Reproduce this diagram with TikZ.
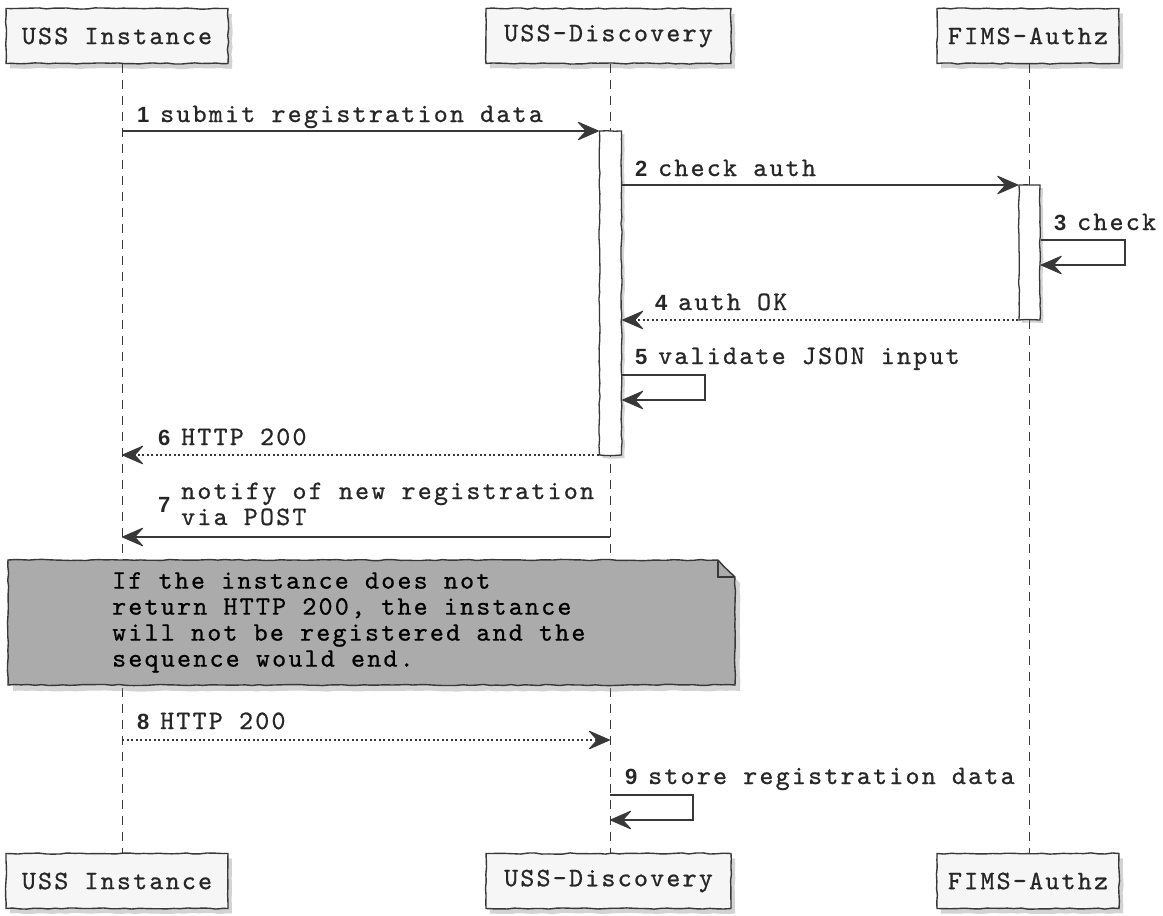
\documentclass[tikz,border=0pt]{standalone}
\usepackage{fontspec}
\setmonofont[LetterSpace=8.5,FakeBold=0.8]{lmmono10-regular.otf}
\newfontfamily\numfont{Liberation Sans}
\usetikzlibrary{arrows.meta,shadows,calc,decorations.pathmorphing}
\definecolor{linec}{HTML}{383838}
\definecolor{boxfill}{HTML}{F6F6F6}
\definecolor{notefill}{HTML}{ABABAB}
\pgfmathsetseed{7}
\tikzset{
  wob/.style={decorate, decoration={random steps, segment length=7pt, amplitude=0.6pt}},
  txt/.style={font=\ttfamily\fontsize{26.6}{26}\selectfont, text=black!85},
  partbox/.style={draw=linec, fill=boxfill, line width=1.4pt, minimum height=55pt, inner sep=0pt, txt, wob,
     drop shadow={opacity=0.35, shadow xshift=4pt, shadow yshift=-5pt}},
  lifeline/.style={draw=linec, line width=0.9pt, dash pattern=on 9pt off 7pt},
  actbar/.style={draw=linec, fill=white, line width=1.3pt, wob,
     drop shadow={opacity=0.35, shadow xshift=3pt, shadow yshift=-3pt}},
  tipv/.tip={Stealth[length=23pt,width=20pt,inset=9pt,line width=0.9pt,round]},
  msg/.style={draw=linec, line width=1.4pt, -tipv},
  ret/.style={msg, dash pattern=on 2pt off 2.5pt},
  lbl/.style={txt, anchor=base west, inner sep=0pt},
  num/.style={font=\numfont\bfseries\fontsize{22}{22}\selectfont, anchor=base west, inner sep=0pt, text=black!85},
}
\begin{document}
\begin{tikzpicture}[x=1pt,y=-1pt]
\useasboundingbox (0,0) rectangle (1163,916);
% participants
\node[partbox, minimum width=222pt] (uT) at (117,36) {USS Instance};
\node[partbox, minimum width=245pt] (dT) at (608.5,36) {USS-Discovery};
\node[partbox, minimum width=182pt] (fT) at (1028,36) {FIMS-Authz};
\node[partbox, minimum width=222pt] (uB) at (117,881) {USS Instance};
\node[partbox, minimum width=245pt] (dB) at (608.5,881) {USS-Discovery};
\node[partbox, minimum width=182pt] (fB) at (1028,881) {FIMS-Authz};
% lifelines
\coordinate (u0) at (122,64); \coordinate (u1) at (122,854);
\coordinate (d0) at (610,64); \coordinate (d1) at (610,854);
\coordinate (f0) at (1029,64); \coordinate (f1) at (1029,854);
\draw[lifeline] (u0) -- (u1);
\draw[lifeline] (d0) -- (d1);
\draw[lifeline] (f0) -- (f1);
% activation bars
\node[actbar, minimum width=22pt, minimum height=324pt, inner sep=0pt] (dA) at (610.5,293) {};
\node[actbar, minimum width=21pt, minimum height=135pt, inner sep=0pt] (fA) at (1029.5,252.5) {};
% message 1
\coordinate (m1a) at (122,131);
\draw[msg] (m1a) -- (m1a -| dA.west);
\node[num] (n1) at (137,122) {1};
\node[lbl] (t1) at (160,122) {submit registration data};
% message 2
\coordinate (m2a) at (dA.east |- 0,185);
\draw[msg] (m2a) -- (m2a -| fA.west);
\node[num] (n2) at (635,176) {2};
\node[lbl] (t2) at (658,176) {check auth};
% message 3
\coordinate (m3a) at (fA.east |- 0,240);
\coordinate (m3b) at (1125,240);
\coordinate (m3c) at (1125,265);
\coordinate (m3d) at (fA.east |- 0,265);
\draw[msg] (m3a) -- (m3b) -- (m3c) -- (m3d);
\node[num] (n3) at (1054,230) {3};
\node[lbl] (t3) at (1077,230) {check};
% message 4
\coordinate (m4a) at (fA.west |- 0,320);
\draw[ret] (m4a) -- (m4a -| dA.east);
\node[num] (n4) at (655,310) {4};
\node[lbl] (t4) at (678,310) {auth OK};
% message 5
\coordinate (m5a) at (dA.east |- 0,375);
\coordinate (m5b) at (705,375);
\coordinate (m5c) at (705,400);
\coordinate (m5d) at (dA.east |- 0,400);
\draw[msg] (m5a) -- (m5b) -- (m5c) -- (m5d);
\node[num] (n5) at (635,364) {5};
\node[lbl] (t5) at (658,364) {validate JSON input};
% message 6
\coordinate (m6a) at (dA.west |- 0,455);
\draw[ret] (m6a) -- (u0 |- m6a);
\node[num] (n6) at (158,445) {6};
\node[lbl] (t6) at (181,445) {HTTP 200};
% message 7
\coordinate (m7a) at (610,537);
\draw[msg] (m7a) -- (u0 |- m7a);
\node[num] (n7) at (158,512) {7};
\node[lbl] (t7a) at (181,499) {notify of new registration};
\node[lbl] (t7b) at (181,525) {via POST};
% note
\path[draw=linec, fill=notefill, line width=1.4pt, wob, drop shadow={opacity=0.35, shadow xshift=5pt, shadow yshift=-6pt}]
  (8,560) -- (718,560) -- (735,577) -- (735,685) -- (8,685) -- cycle;
\draw[linec, line width=1.2pt] (718,560) -- (718,577) -- (735,577);
\node[txt, anchor=north west, inner sep=0pt, align=left, text=black] (note) at (112,572)
  {If the instance does not\\return HTTP 200, the instance\\will not be registered and the\\sequence would end.};
% message 8
\coordinate (m8a) at (122,740);
\draw[ret] (m8a) -- (d0 |- m8a);
\node[num] (n8) at (137,729) {8};
\node[lbl] (t8) at (160,729) {HTTP 200};
% message 9
\coordinate (m9a) at (610,795);
\coordinate (m9b) at (693,795);
\coordinate (m9c) at (693,820);
\coordinate (m9d) at (610,820);
\draw[msg] (m9a) -- (m9b) -- (m9c) -- (m9d);
\node[num] (n9) at (625,784) {9};
\node[lbl] (t9) at (648,784) {store registration data};
\end{tikzpicture}
\end{document}
